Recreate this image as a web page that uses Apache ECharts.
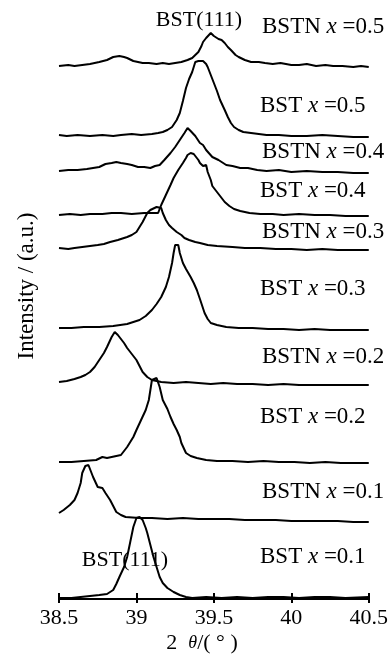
<!DOCTYPE html>
<html>
<head>
<meta charset="utf-8">
<script src="https://cdn.jsdelivr.net/npm/echarts@6/dist/echarts.min.js"></script>
<style>
html,body{margin:0;padding:0;background:#fff;}
#chart{width:391px;height:660px;}
</style>
</head>
<body>
<div id="chart"></div>
<script>
// 2θ (deg) and relative intensity (a.u.), per pattern
var bstn05 = [[38.50,0],[38.56,1],[38.60,0],[38.65,1],[38.70,2],[38.76,4],[38.81,6],[38.85,9],[38.89,10],[38.92,9],[38.94,8],[38.98,5],[39.01,4],[39.04,3],[39.08,3],[39.13,2],[39.17,3],[39.21,2],[39.25,3],[39.29,4],[39.33,6],[39.36,8],[39.38,11],[39.40,14],[39.42,20],[39.43,24],[39.45,28],[39.48,33],[39.50,30],[39.51,31],[39.53,27],[39.55,26],[39.57,23],[39.59,19],[39.61,16],[39.64,11],[39.66,9],[39.70,6],[39.72,5],[39.74,4],[39.79,4],[39.83,3],[39.88,2],[39.93,3],[40.00,1],[40.05,1],[40.10,2],[40.16,0],[40.22,1],[40.27,0],[40.33,0],[40.40,-1],[40.45,0],[40.50,-1]];
var bst05 = [[38.50,1],[38.55,0],[38.62,1],[38.70,0],[38.78,1],[38.85,0],[38.90,1],[38.97,2],[39.03,1],[39.10,2],[39.14,3],[39.17,4],[39.20,6],[39.23,9],[39.26,16],[39.28,23],[39.30,35],[39.32,48],[39.34,57],[39.36,64],[39.38,74],[39.40,75],[39.43,75],[39.45,72],[39.46,69],[39.48,61],[39.50,53],[39.52,45],[39.54,36],[39.57,26],[39.59,19],[39.61,13],[39.63,9],[39.66,6],[39.69,4],[39.74,3],[39.79,2],[39.84,1],[39.92,1],[40.00,0],[40.10,0],[40.20,1],[40.30,0],[40.40,-1],[40.50,-1]];
var bstn04 = [[38.50,0],[38.56,1],[38.62,1],[38.68,2],[38.72,3],[38.76,4],[38.80,7],[38.84,8],[38.87,9],[38.90,8],[38.94,7],[38.97,6],[39.01,4],[39.05,4],[39.09,3],[39.12,5],[39.15,6],[39.18,11],[39.22,18],[39.25,24],[39.28,31],[39.31,38],[39.33,43],[39.35,40],[39.36,39],[39.38,35],[39.41,28],[39.43,26],[39.45,21],[39.49,14],[39.53,11],[39.58,6],[39.62,5],[39.67,3],[39.72,3],[39.78,1],[39.84,0],[39.92,1],[40.00,-1],[40.10,0],[40.20,-1],[40.30,-1],[40.40,-2],[40.50,-2]];
var bst04 = [[38.50,0],[38.57,1],[38.64,0],[38.70,1],[38.78,1],[38.84,2],[38.90,2],[38.97,1],[39.05,2],[39.10,2],[39.14,2],[39.16,10],[39.19,20],[39.22,30],[39.24,37],[39.27,45],[39.30,52],[39.32,57],[39.33,60],[39.35,62],[39.37,61],[39.38,60],[39.40,55],[39.41,52],[39.43,49],[39.44,48],[39.45,50],[39.46,43],[39.48,35],[39.49,29],[39.52,23],[39.54,19],[39.57,13],[39.60,9],[39.63,6],[39.67,4],[39.73,2],[39.80,1],[39.88,1],[39.95,0],[40.05,1],[40.15,0],[40.25,0],[40.35,-1],[40.50,-1]];
var bstn03 = [[38.50,1],[38.56,0],[38.60,1],[38.65,2],[38.70,3],[38.75,4],[38.79,5],[38.83,7],[38.88,9],[38.92,11],[38.94,12],[38.97,14],[39.00,17],[39.02,22],[39.04,27],[39.06,33],[39.07,36],[39.09,39],[39.10,41],[39.13,42],[39.16,41],[39.17,36],[39.19,29],[39.21,24],[39.23,21],[39.26,17],[39.29,14],[39.31,11],[39.34,9],[39.38,7],[39.41,6],[39.46,4],[39.52,3],[39.62,2],[39.70,1],[39.80,1],[39.90,0],[40.00,0],[40.10,-1],[40.20,0],[40.30,-1],[40.40,-1],[40.50,-1]];
var bst03 = [[38.50,1],[38.58,1],[38.66,2],[38.76,2],[38.85,3],[38.94,5],[38.98,7],[39.02,9],[39.06,13],[39.10,19],[39.13,25],[39.16,32],[39.19,42],[39.21,52],[39.23,66],[39.24,76],[39.25,84],[39.27,84],[39.28,76],[39.30,66],[39.32,60],[39.35,52],[39.37,46],[39.39,39],[39.41,30],[39.44,16],[39.46,10],[39.48,6],[39.52,4],[39.58,2],[39.66,1],[39.75,1],[39.85,0],[39.95,0],[40.05,-1],[40.15,0],[40.25,-1],[40.35,-1],[40.50,-1]];
var bstn02 = [[38.50,2],[38.55,3],[38.60,5],[38.64,7],[38.67,9],[38.70,12],[38.73,17],[38.76,24],[38.79,31],[38.81,37],[38.84,47],[38.86,52],[38.88,49],[38.89,47],[38.92,41],[38.94,36],[38.97,30],[39.00,24],[39.02,18],[39.04,12],[39.07,7],[39.10,4],[39.16,2],[39.24,1],[39.32,2],[39.40,1],[39.48,0],[39.56,1],[39.65,0],[39.75,0],[39.85,-1],[39.95,0],[40.05,-1],[40.15,-1],[40.25,-1],[40.35,-1],[40.50,-1]];
var bst02 = [[38.50,0],[38.58,0],[38.66,1],[38.74,2],[38.78,5],[38.81,4],[38.84,5],[38.90,7],[38.94,15],[38.96,20],[38.98,25],[39.00,32],[39.03,42],[39.06,52],[39.08,62],[39.09,72],[39.10,82],[39.13,84],[39.15,75],[39.17,62],[39.20,53],[39.22,45],[39.24,38],[39.26,32],[39.28,25],[39.29,19],[39.32,9],[39.35,6],[39.39,4],[39.45,2],[39.52,1],[39.62,1],[39.72,0],[39.82,1],[39.92,0],[40.02,0],[40.12,-1],[40.22,0],[40.32,-1],[40.50,-1]];
var bstn01 = [[38.50,5],[38.53,8],[38.57,13],[38.60,18],[38.62,25],[38.64,35],[38.65,45],[38.67,52],[38.69,53],[38.70,49],[38.72,41],[38.75,31],[38.78,30],[38.80,25],[38.83,18],[38.85,12],[38.87,6],[38.90,3],[38.93,1],[39.02,0],[39.10,0],[39.20,-1],[39.30,0],[39.40,-1],[39.50,-1],[39.60,-1],[39.70,-2],[39.80,-2],[39.90,-2],[40.00,-3],[40.10,-3],[40.20,-3],[40.30,-3],[40.40,-4],[40.50,-4]];
var bst01 = [[38.50,0],[38.58,0],[38.64,1],[38.70,2],[38.76,3],[38.81,4],[38.85,8],[38.87,14],[38.89,21],[38.92,31],[38.94,41],[38.96,56],[38.98,71],[39.00,80],[39.02,81],[39.04,78],[39.06,70],[39.07,65],[39.09,53],[39.11,41],[39.13,31],[39.15,21],[39.17,15],[39.20,10],[39.24,6],[39.28,3],[39.32,1],[39.36,0],[39.45,1],[39.55,0],[39.65,1],[39.75,0],[39.85,1],[39.95,1],[40.05,0],[40.15,1],[40.25,1],[40.35,0],[40.50,1]];

var patterns = [bstn05, bst05, bstn04, bst04, bstn03, bst03, bstn02, bst02, bstn01, bst01];
var offsets = [533, 463, 428, 384, 350, 270, 215, 137, 81, 1];
var sampleNames = ['BSTN', 'BST', 'BSTN', 'BST', 'BSTN', 'BST', 'BSTN', 'BST', 'BSTN', 'BST'];
var xValues = ['0.5', '0.5', '0.4', '0.4', '0.3', '0.3', '0.2', '0.2', '0.1', '0.1'];
var xTicks = [38.5, 39, 39.5, 40, 40.5];
var peakLabel = 'BST(111)';

var FONT = '"Liberation Serif","Times New Roman",serif';

var series = patterns.map(function (p, i) {
  return {
    type: 'line',
    name: sampleNames[i] + ' x=' + xValues[i],
    data: p.map(function (d) { return [d[0], d[1] + offsets[i]]; }),
    showSymbol: false,
    smooth: false,
    silent: true,
    lineStyle: { color: '#000', width: 2 },
    z: 3
  };
});

// label placement (pixels)
var labelPos = [[262,27],[260,106],[262,152],[260,191],[262,232],[260,289],[262,357],[260,417],[262,492],[260,557]];
var graphics = labelPos.map(function (pos, i) {
  return {
    type: 'text', x: pos[0], y: pos[1], z: 10,
    style: {
      text: '{a|' + sampleNames[i] + ' }{b|x}{a| =' + xValues[i] + '}',
      align: 'left', verticalAlign: 'middle',
      rich: {
        a: { fontFamily: FONT, fontSize: 23, fill: '#000' },
        b: { fontFamily: FONT, fontSize: 23, fontStyle: 'italic', fill: '#000' }
      }
    }
  };
});
graphics.push({ type: 'text', x: 199, y: 20, z: 10,
  style: { text: peakLabel, font: '22px ' + FONT, fill: '#000', align: 'center', verticalAlign: 'middle' } });
graphics.push({ type: 'text', x: 125, y: 560, z: 10,
  style: { text: peakLabel, font: '22px ' + FONT, fill: '#000', align: 'center', verticalAlign: 'middle' } });
graphics.push({ type: 'text', x: 27, y: 286, rotation: Math.PI / 2, z: 10,
  style: { text: 'Intensity / (a.u.)', font: '23px ' + FONT, fill: '#000', align: 'center', verticalAlign: 'middle' } });
graphics.push({ type: 'text', x: 202, y: 643, z: 10,
  style: {
    text: '{a|2  }{b|θ}{a|/( }{c|°}{a| )}', align: 'center', verticalAlign: 'middle',
    rich: {
      a: { fontFamily: FONT, fontSize: 22, fill: '#000' },
      b: { fontFamily: FONT, fontSize: 18, fontStyle: 'italic', fill: '#000' },
      c: { fontFamily: FONT, fontSize: 22, fill: '#000' }
    }
  } });

var chart = echarts.init(document.getElementById('chart'), null, { renderer: 'canvas' });
chart.setOption({
  animation: false,
  backgroundColor: '#fff',
  grid: { left: 59, right: 22, top: 0, bottom: 61, containLabel: false },
  xAxis: [{
    type: 'value', position: 'bottom',
    min: xTicks[0], max: xTicks[xTicks.length - 1], interval: 0.5,
    axisLine: { show: true, lineStyle: { color: '#000', width: 2 } },
    axisTick: { show: true, inside: false, length: 4, lineStyle: { color: '#000', width: 2 } },
    axisLabel: { show: true, color: '#000', fontFamily: FONT, fontSize: 22, margin: 8,
      showMinLabel: true, showMaxLabel: true },
    splitLine: { show: false }
  }, {
    type: 'value', position: 'bottom', offset: 0,
    min: xTicks[0], max: xTicks[xTicks.length - 1], interval: 0.5,
    axisLine: { show: false },
    axisTick: { show: true, inside: true, length: 6, lineStyle: { color: '#000', width: 2 } },
    axisLabel: { show: false },
    splitLine: { show: false }
  }],
  yAxis: {
    type: 'value', min: 0, max: 599,
    show: false
  },
  series: series,
  graphic: graphics
});
</script>
</body>
</html>
